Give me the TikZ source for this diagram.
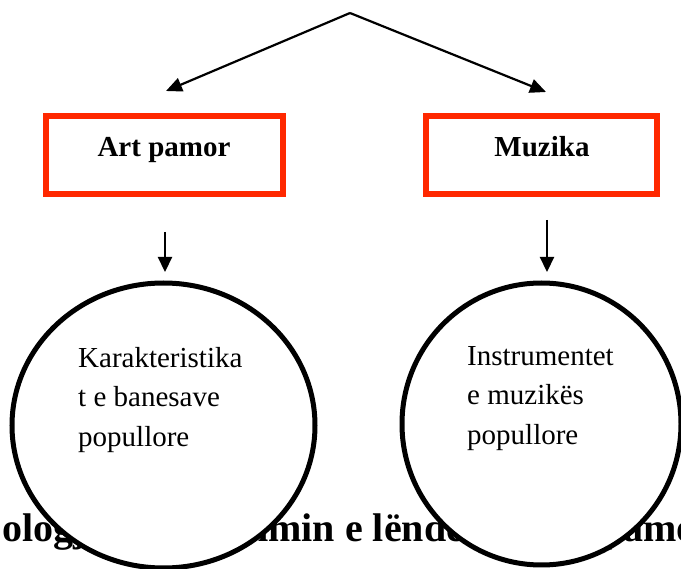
\documentclass[tikz,border=0pt]{standalone}
\usepackage{fontspec}
\setmainfont{Liberation Serif}
\usetikzlibrary{arrows.meta,shapes.geometric}
\definecolor{boxred}{RGB}{255,40,0}
\begin{document}
\begin{tikzpicture}[x=1pt,y=-1pt,
  redbox/.style={draw=boxred,line width=6pt,rectangle,inner sep=0pt,minimum height=78pt},
  boxtext/.style={font=\fontsize{29}{34}\selectfont\bfseries,anchor=base,inner sep=0pt},
  oval/.style={draw=black,fill=white,line width=5pt,ellipse,inner sep=0pt},
  ovaltext/.style={font=\fontsize{29}{39.5}\selectfont,align=left,anchor=north west,inner sep=0pt},
  bottomtext/.style={font=\fontsize{40}{44}\selectfont\bfseries,anchor=base west,inner sep=0pt},
  arr/.style={-{Triangle[length=16pt,width=14pt]},line width=2.2pt},
  darr/.style={-{Triangle[length=15pt,width=14pt]},line width=2.2pt}]
\useasboundingbox (0,0) rectangle (681,569);
% background text partly hidden by the ovals
\node[bottomtext] (b1) at (2,542) {ologj};
\node[bottomtext] (b2) at (235,542) {mmin e lëndës};
\node[bottomtext] (b3) at (601,542) {pamo};
% top arrows
\coordinate (apex) at (350,13);
\coordinate (lt) at (166,91);
\coordinate (rt) at (546,92);
\draw[arr] (apex) -- (lt);
\draw[arr] (apex) -- (rt);
% boxes
\node[redbox,minimum width=237pt] (artbox) at (164.5,155) {};
\node[redbox,minimum width=231pt] (muzbox) at (541.5,155) {};
\node[boxtext] (arttxt) at (164,157) {Art pamor};
\node[boxtext] (muztxt) at (542,157) {Muzika};
% down arrows
\coordinate (ld1) at (165,232);
\coordinate (ld2) at (165,272);
\coordinate (rd1) at (547,220);
\coordinate (rd2) at (547,272);
\draw[darr] (ld1) -- (ld2);
\draw[darr] (rd1) -- (rd2);
% ovals
\node[oval,minimum width=303pt,minimum height=285pt] (lov) at (163.5,425.5) {};
\node[oval,minimum width=279pt,minimum height=282pt] (rov) at (541.5,424) {};
\node[ovaltext] (lovt) at (78,347) {Karakteristika\\t e banesave\\popullore};
\node[ovaltext] (rovt) at (467,346) {Instrumentet\\e muzikës\\popullore};
\end{tikzpicture}
\end{document}
